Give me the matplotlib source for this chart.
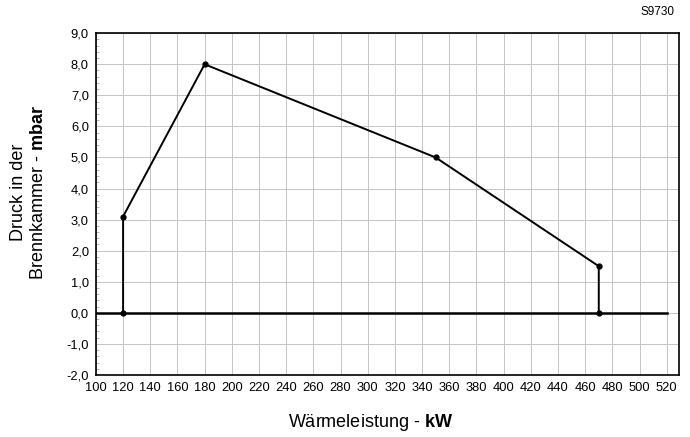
import matplotlib.pyplot as plt
from matplotlib.ticker import FuncFormatter, MultipleLocator

plt.rcParams['font.family'] = ['Liberation Sans', 'DejaVu Sans']
plt.rcParams['mathtext.fontset'] = 'custom'
plt.rcParams['mathtext.bf'] = 'Liberation Sans:bold'
plt.rcParams['mathtext.rm'] = 'Liberation Sans'

# working range of the burner
power_kw = [120, 120, 180, 350, 470, 470]
pressure_mbar = [0.0, 3.1, 8.0, 5.0, 1.5, 0.0]

x_ticks = list(range(100, 521, 20))
y_ticks = list(range(-2, 10))

fig = plt.figure(figsize=(6.9, 4.37), dpi=100)
ax = fig.add_axes([0.139, 0.142, 0.845, 0.782])

ax.set_xlim(100, 529)
ax.set_ylim(-2, 9)
ax.set_xticks(x_ticks)
ax.set_yticks(y_ticks)
ax.yaxis.set_minor_locator(MultipleLocator(0.2))
ax.yaxis.set_major_formatter(FuncFormatter(lambda v, p: f'{v:.1f}'.replace('.', ',')))
ax.grid(True, color='#c4c4c4', linewidth=0.7)
ax.tick_params(axis='both', labelsize=9.3, length=0, pad=5)
ax.tick_params(axis='y', which='minor', direction='in', length=2, color='#aaaaaa')

for s in ax.spines.values():
    s.set_linewidth(1.2)

ax.plot([100, 520], [0, 0], color='black', linewidth=1.8, zorder=3)
ax.plot(power_kw, pressure_mbar, color='black', linewidth=1.4, marker='o',
        markersize=3.5, zorder=4)

fig.text(0.537, 0.022, r'Wärmeleistung - $\mathbf{kW}$', fontsize=13, ha='center')
fig.text(0.041, 0.56, 'Druck in der\nBrennkammer - $\\mathbf{mbar}$', fontsize=13,
         rotation=90, ha='center', va='center', multialignment='center')
fig.text(0.978, 0.965, 'S9730', fontsize=8.5, ha='right')

fig.savefig('out.png', dpi=100)
